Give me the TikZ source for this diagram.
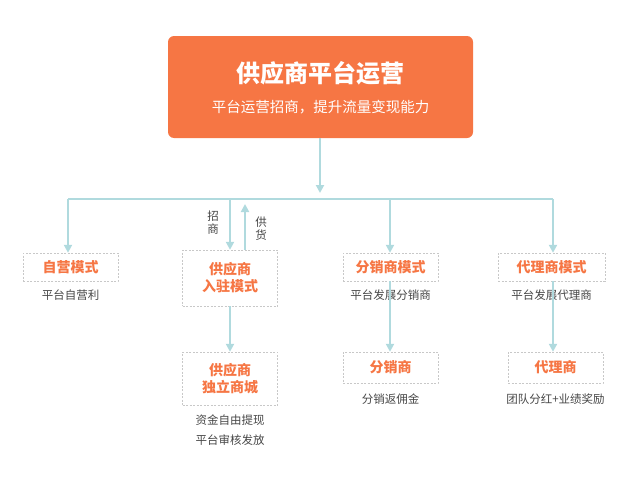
\documentclass[tikz,border=0pt]{standalone}
\usepackage{fontspec}
\setmainfont{Noto Sans CJK SC}
\usetikzlibrary{arrows.meta}
\definecolor{org}{RGB}{246,118,68}
\definecolor{ln}{RGB}{176,218,222}
\definecolor{bx}{RGB}{200,200,200}
\definecolor{tx}{RGB}{70,70,70}
\tikzset{x=1pt,y=-1pt,
 box/.style={draw=bx,dashed,dash pattern=on 2pt off 1.5pt,fill=white,text=org,font=\fontsize{14}{17}\selectfont\bfseries,align=center,inner sep=0,minimum width=95},
 sub/.style={text=tx,font=\fontsize{11.5}{20}\selectfont,align=center},
 con/.style={draw=ln,line width=2pt,-{Triangle[width=8pt,length=8pt]}},
 lin/.style={draw=ln,line width=2pt}}
\begin{document}
\begin{tikzpicture}
\useasboundingbox (0,0) rectangle (640,490);
\node[fill=org,rounded corners=6pt,minimum width=305,minimum height=102,inner sep=0] (top) at (320.5,87) {};
\node[text=white,font=\fontsize{24}{28}\selectfont\bfseries] (t1) at (320.5,73) {供应商平台运营};
\node[text=white,font=\fontsize{14.5}{17}\selectfont] (t2) at (320.5,107) {平台运营招商，提升流量变现能力};
\coordinate (j) at (320,199);
\coordinate (l) at (68,199);
\coordinate (r) at (553,199);
\node[box,minimum height=28] (a) at (70.5,267) {自营模式};
\node[box,minimum height=56] (b) at (230,278) {供应商\\入驻模式};
\node[box,minimum height=28] (c) at (390.5,267) {分销商模式};
\node[box,minimum height=28,minimum width=107] (d) at (551.5,267) {代理商模式};
\node[box,minimum height=53] (e) at (230,378.5) {供应商\\独立商城};
\node[box,minimum height=31] (f) at (390.5,367.5) {分销商};
\node[box,minimum height=31] (g) at (555.5,367.5) {代理商};
\node[sub] (as) at (70.5,295) {平台自营利};
\node[sub] (cs) at (390.5,295) {平台发展分销商};
\node[sub] (ds) at (551.5,295) {平台发展代理商};
\node[sub] (es) at (230,430) {资金自由提现\\平台审核发放};
\node[sub] (fs) at (390.5,399) {分销返佣金};
\node[sub] (gs) at (555.5,399) {团队分红+业绩奖励};
\draw[con] (top.south -| j) -- (320,193);
\draw[lin] (l) -- (r);
\draw[con] (l) -- (a.north -| l);
\draw[con] (230,199) -- (b.north);
\draw[con] (245,250) -- (245,204);
\draw[con] (390,199) -- (c.north -| 390,0);
\draw[con] (r) -- (d.north -| r);
\draw[con] (b.south) -- (e.north);
\draw[con] (c.south -| 390,0) -- (f.north -| 390,0);
\draw[con] (d.south -| r) -- (g.north -| r);
\node[sub,font=\fontsize{11.5}{13}\selectfont] (zs) at (213,223) {招\\商};
\node[sub,font=\fontsize{11.5}{13}\selectfont] (gh) at (261,229) {供\\货};
\end{tikzpicture}
\end{document}
